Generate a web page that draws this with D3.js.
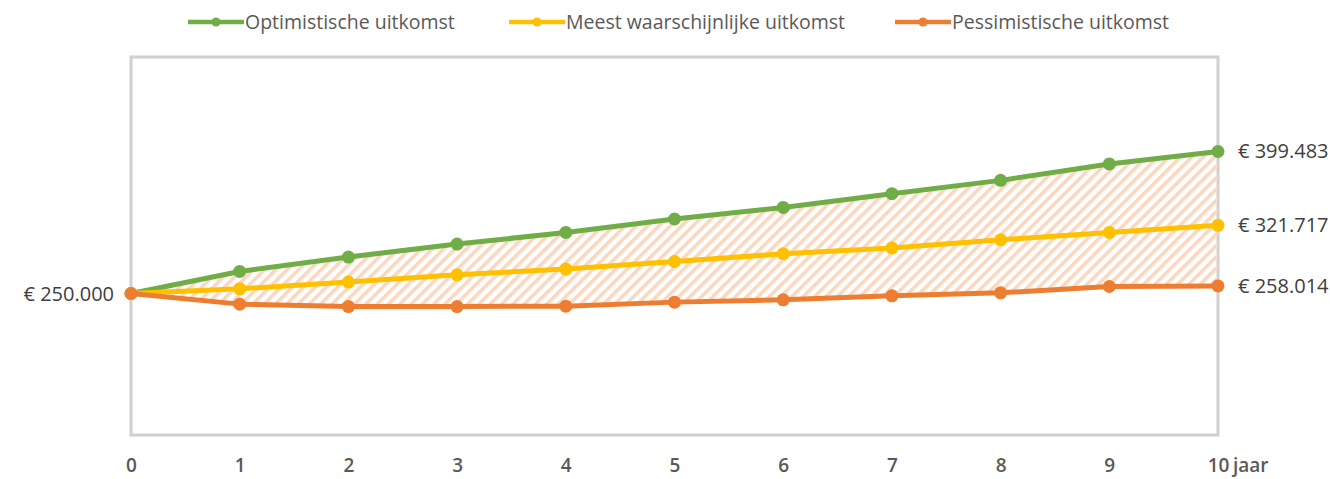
<!DOCTYPE html>
<html>
<head>
<meta charset="utf-8">
<script src="https://cdn.jsdelivr.net/npm/d3@7.9.0/dist/d3.min.js"></script>
<style>
  body { margin: 0; background: #fff; }
  svg { display: block; font-family: "Open Sans", "Noto Sans", sans-serif; }
</style>
</head>
<body>
<div id="chart"></div>
<script>
const years = [0, 1, 2, 3, 4, 5, 6, 7, 8, 9, 10];
const optimistic = [250000, 273200, 288350, 302050, 314280, 328400, 340630, 355070, 369090, 386370, 399483];
const likely = [250000, 254940, 262000, 269690, 275700, 283710, 291830, 297840, 306580, 314280, 321717];
const pessimistic = [250000, 238810, 236280, 236280, 236700, 240920, 243340, 247560, 250720, 257360, 258014];
const seriesNames = ['Optimistische uitkomst', 'Meest waarschijnlijke uitkomst', 'Pessimistische uitkomst'];
const seriesColors = ['#70ad47', '#ffc000', '#ed7d31'];
const yearUnit = 'jaar';

const width = 1330;
const height = 479;
const plot = { left: 131, right: 1218, top: 57, bottom: 435 };

const nl = d3.formatLocale({ decimal: ',', thousands: '.', grouping: [3], currency: ['€ ', ''] });
const fmt = nl.format('$,.0f');

const svg = d3.select('#chart').append('svg')
  .attr('width', width)
  .attr('height', height);

const defs = svg.append('defs');
const pat = defs.append('pattern')
  .attr('id', 'hatch')
  .attr('patternUnits', 'userSpaceOnUse')
  .attr('width', 8)
  .attr('height', 8)
  .attr('patternTransform', 'rotate(45)');
pat.append('rect')
  .attr('x', 0).attr('y', 0)
  .attr('width', 3.6).attr('height', 8)
  .attr('fill', '#fad8bf');

const x = d3.scaleLinear().domain([0, 10]).range([plot.left, plot.right]);
const y = d3.scaleLinear().domain([100000, 500000]).range([436, 56]);

// plot frame
svg.append('rect')
  .attr('x', plot.left)
  .attr('y', plot.top)
  .attr('width', plot.right - plot.left)
  .attr('height', plot.bottom - plot.top)
  .attr('fill', 'none')
  .attr('stroke', '#d0d0d0')
  .attr('stroke-width', 3);

// hatched band between optimistic and pessimistic
const band = years.map((d, i) => ({ year: d, hi: optimistic[i], lo: pessimistic[i] }));
svg.append('path')
  .datum(band)
  .attr('fill', 'url(#hatch)')
  .attr('d', d3.area().x((d) => x(d.year)).y0((d) => y(d.lo)).y1((d) => y(d.hi)));

const series = [optimistic, likely, pessimistic].map((vals, i) => ({
  name: seriesNames[i],
  color: seriesColors[i],
  values: years.map((yr, j) => ({ year: yr, value: vals[j] })),
}));

const line = d3.line().x((d) => x(d.year)).y((d) => y(d.value));

series.forEach((s) => {
  const g = svg.append('g');
  g.append('path')
    .datum(s.values)
    .attr('fill', 'none')
    .attr('stroke', s.color)
    .attr('stroke-width', 5)
    .attr('stroke-linejoin', 'round')
    .attr('d', line);
  g.selectAll('circle')
    .data(s.values)
    .join('circle')
    .attr('cx', (d) => x(d.year))
    .attr('cy', (d) => y(d.value))
    .attr('r', 6.5)
    .attr('fill', s.color);
});

// value labels
svg.append('text')
  .attr('x', 114)
  .attr('y', y(optimistic[0]))
  .attr('dy', '0.35em')
  .attr('text-anchor', 'end')
  .attr('font-size', 20)
  .attr('fill', '#404040')
  .text(fmt(optimistic[0]));

svg.selectAll('.end-label')
  .data(series)
  .join('text')
  .attr('class', 'end-label')
  .attr('x', plot.right + 20)
  .attr('y', (d) => y(d.values[d.values.length - 1].value))
  .attr('dy', '0.35em')
  .attr('font-size', 20)
  .attr('fill', '#404040')
  .text((d) => fmt(d.values[d.values.length - 1].value));

// x axis
const xAxis = svg.append('g')
  .attr('transform', `translate(0, ${plot.bottom})`)
  .call(d3.axisBottom(x).tickValues(years).tickSize(0).tickPadding(24).tickFormat(d3.format('d')));
xAxis.select('.domain').remove();
xAxis.selectAll('text')
  .attr('font-size', 19)
  .attr('font-weight', 600)
  .attr('fill', '#595959')
  .style('font-family', '"Open Sans", sans-serif');
svg.append('text')
  .attr('x', x(10) + 15)
  .attr('y', plot.bottom + 24)
  .attr('dy', '0.71em')
  .attr('font-size', 19)
  .attr('font-weight', 600)
  .attr('fill', '#595959')
  .text(yearUnit);

// legend
const legendItems = [
  { x: 188, s: series[0] },
  { x: 509, s: series[1] },
  { x: 895, s: series[2] },
];
const legend = svg.append('g').attr('transform', 'translate(0, 22)');
legendItems.forEach(({ x: lx, s }) => {
  const g = legend.append('g').attr('transform', `translate(${lx}, 0)`);
  g.append('line')
    .attr('x1', 0).attr('x2', 56)
    .attr('stroke', s.color)
    .attr('stroke-width', 4.5);
  g.append('circle').attr('cx', 28).attr('r', 4.5).attr('fill', s.color);
  g.append('text')
    .attr('x', 57)
    .attr('dy', '0.35em')
    .attr('font-size', 19.5)
    .attr('fill', '#595959')
    .text(s.name);
});
</script>
</body>
</html>
